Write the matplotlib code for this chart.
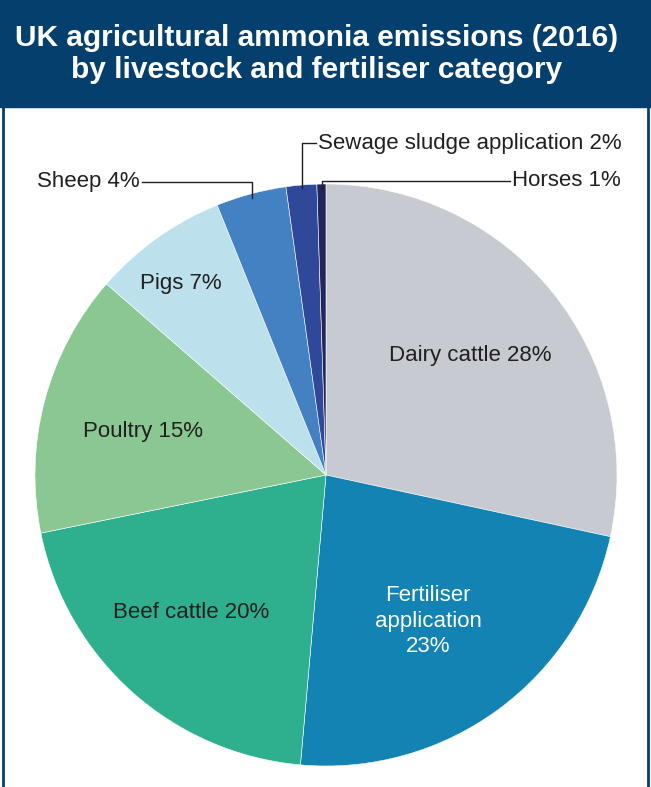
import matplotlib
matplotlib.use("Agg")
import matplotlib.pyplot as plt
import numpy as np
from matplotlib.patches import Rectangle

# data: slice sizes, printed labels as shown
categories = ["Dairy cattle", "Fertiliser application", "Beef cattle", "Poultry",
              "Pigs", "Sheep", "Sewage sludge application", "Horses"]
values = [28.4, 23.0, 20.4, 14.6, 7.5, 3.9, 1.7, 0.5]
label_pct = [28, 23, 20, 15, 7, 4, 2, 1]
colours = ["#C8CAD2", "#1283B3", "#2EB08F", "#8AC793",
           "#BCE1EC", "#4381C3", "#2F4899", "#22265A"]

W, H = 651, 787
navy = "#043F6E"

fig = plt.figure(figsize=(W / 100, H / 100), dpi=100)
ax = fig.add_axes([0, 0, 1, 1])

# header band + frame
ax.add_patch(Rectangle((0, 0), W, 107, color=navy, zorder=0))
ax.plot([3, 3], [0, H], color=navy, lw=2)
ax.plot([W - 3, W - 3], [0, H], color=navy, lw=2)
ax.text(317, 54, "UK agricultural ammonia emissions (2016)\nby livestock and fertiliser category",
        color="white", fontsize=21.5, fontweight="bold", family="Liberation Sans",
        ha="center", va="center", linespacing=1.22)

# pie (y axis is flipped, so counterclock=True draws clockwise on screen)
cx, cy, R = 326, 475, 291
wedges, _ = ax.pie(values, colors=colours, startangle=-90, counterclock=True,
                   center=(cx, cy), radius=R, frame=True,
                   wedgeprops=dict(edgecolor="white", linewidth=0.4))
ax.set_xlim(0, W)
ax.set_ylim(H, 0)
ax.set_aspect("equal")
ax.axis("off")

lab = dict(fontsize=16, family="Liberation Sans", color="#231F20")

def label(i):
    return f"{categories[i]} {label_pct[i]}%"

ax.text(470, 356, label(0), ha="center", va="center", **lab)
ax.text(428, 621, "Fertiliser\napplication\n23%", ha="center", va="center",
        linespacing=1.3, **{**lab, "color": "white"})
ax.text(191, 612, label(2), ha="center", va="center", **lab)
ax.text(143, 432, label(3), ha="center", va="center", **lab)
ax.text(181, 284, label(4), ha="center", va="center", **lab)

# leader lines for the small slices, ending just inside the wedge
def mid_point(i, r):
    w = wedges[i]
    a = np.deg2rad((w.theta1 + w.theta2) / 2)
    return cx + r * np.cos(a), cy + r * np.sin(a)

lc = dict(color="#231F20", lw=1.0)
x5, y5 = mid_point(5, R - 4)
ax.plot([142, x5, x5], [181.5, 181.5, y5], **lc)
ax.text(37, 182, label(5), ha="left", va="center", **lab)

x6, y6 = mid_point(6, R - 3)
ax.plot([316, x6, x6], [143, 143, y6], **lc)
ax.text(318, 143, label(6), ha="left", va="center", **lab)

x7, y7 = mid_point(7, R - 5)
ax.plot([510, x7, x7], [181, 181, y7], **lc)
ax.text(512, 181, label(7), ha="left", va="center", **lab)

fig.savefig("out.png", dpi=100, facecolor="white")
